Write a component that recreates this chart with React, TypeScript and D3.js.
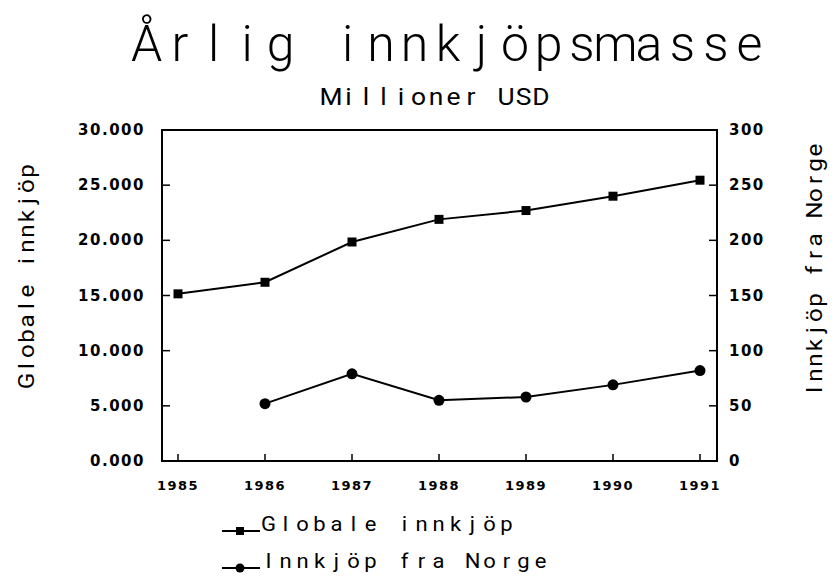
import React from "react";
import * as d3 from "d3";

const years = [1985, 1986, 1987, 1988, 1989, 1990, 1991];
const globalValues = [15150, 16200, 19850, 21900, 22700, 24000, 25450];
const norwayYears = [1986, 1987, 1988, 1989, 1990, 1991];
const norwayValues = [52, 79, 55, 58, 69, 82];
const leftTicks = [0, 5000, 10000, 15000, 20000, 25000, 30000];
const leftTickLabels = ["0.000", "5.000", "10.000", "15.000", "20.000", "25.000", "30.000"];
const rightTicks = [0, 50, 100, 150, 200, 250, 300];
const rightTickLabels = ["0", "50", "100", "150", "200", "250", "300"];
const titleText = "Årlig innkjöpsmasse";
const subtitleText = "Millioner USD";
const leftAxisTitle = "Globale innkjöp";
const rightAxisTitle = "Innkjöp fra Norge";
const legendLabels = ["Globale innkjöp", "Innkjöp fra Norge"];

const W = 832;
const H = 578;
const L = 162, R = 717, T = 130, B = 461;

const TXT = "Roboto, 'Noto Sans', sans-serif";
const NUM = "'DejaVu Sans', sans-serif";

function Mono({ text, cx, y, cell, size, weight = 400, startX, sx = 1 }: any) {
  const n = text.length;
  const x0 = startX !== undefined ? startX : cx - (n * cell) / 2;
  return (
    <g>
      {Array.from(text).map((ch: any, i: number) => (
        <text
          key={i}
          transform={`translate(${x0 + (i + 0.5) * cell},${y}) scale(${sx},1)`}
          x={0}
          y={0}
          textAnchor="middle"
          fontFamily={TXT}
          fontSize={size}
          fontWeight={weight}
          fill="#000"
        >
          {ch}
        </text>
      ))}
    </g>
  );
}

export default function App() {
  const x = d3.scaleLinear().domain([1985, 1991]).range([178, 700]);
  const yL = d3.scaleLinear().domain([0, 30000]).range([B, T]);
  const yR = d3.scaleLinear().domain([0, 300]).range([B, T]);

  const gData = years.map((yr, i) => ({ x: x(yr), y: yL(globalValues[i]) }));
  const nData = norwayYears.map((yr, i) => ({ x: x(yr), y: yR(norwayValues[i]) }));
  const line = d3.line<any>().x((d) => d.x).y((d) => d.y);

  return (
    <svg width={W} height={H} style={{ position: "absolute", left: 0, top: 0, background: "#fff" }}>
      <rect x={0} y={0} width={W} height={H} fill="#fff" />
      <Mono text={titleText} cx={448} y={61} cell={33.5} size={50} weight={300} />
      <Mono text={subtitleText} cx={436} y={105} cell={17.5} size={24} sx={1.1} />

      <g transform={`translate(34,276) rotate(-90)`}>
        <Mono text={leftAxisTitle} cx={0} y={0} cell={15} size={22} sx={1.1} />
      </g>
      <g transform={`translate(822,270) rotate(-90)`}>
        <Mono text={rightAxisTitle} cx={0} y={0} cell={15} size={22} sx={1.1} />
      </g>

      <rect x={L} y={T} width={R - L} height={B - T} fill="none" stroke="#000" strokeWidth={2} />

      {leftTicks.map((t, i) => (
        <g key={"l" + i}>
          {i > 0 && i < leftTicks.length - 1 && (
            <line x1={L} x2={L + 8} y1={yL(t)} y2={yL(t)} stroke="#000" strokeWidth={1.5} />
          )}
          <text x={145} y={yL(t) + 5} textAnchor="end" fontFamily={NUM} fontWeight="bold" fontSize={15} letterSpacing={1.5}>
            {leftTickLabels[i]}
          </text>
        </g>
      ))}
      {rightTicks.map((t, i) => (
        <g key={"r" + i}>
          {i > 0 && i < rightTicks.length - 1 && (
            <line x1={R - 8} x2={R} y1={yR(t)} y2={yR(t)} stroke="#000" strokeWidth={1.5} />
          )}
          <text x={729} y={yR(t) + 5} textAnchor="start" fontFamily={NUM} fontWeight="bold" fontSize={15} letterSpacing={1.5}>
            {rightTickLabels[i]}
          </text>
        </g>
      ))}
      {years.map((yr) => (
        <g key={"x" + yr}>
          <line x1={x(yr)} x2={x(yr)} y1={B} y2={B - 7} stroke="#000" strokeWidth={1.5} />
          <text x={x(yr)} y={490} textAnchor="middle" fontFamily={NUM} fontWeight="bold" fontSize={13} letterSpacing={1.5}>
            {yr}
          </text>
        </g>
      ))}

      <path d={line(gData) || ""} fill="none" stroke="#000" strokeWidth={2} />
      {gData.map((d, i) => (
        <rect key={"g" + i} x={d.x - 4.5} y={d.y - 4.5} width={9} height={9} fill="#000" />
      ))}
      <path d={line(nData) || ""} fill="none" stroke="#000" strokeWidth={2} />
      {nData.map((d, i) => (
        <circle key={"n" + i} cx={d.x} cy={d.y} r={5.5} fill="#000" />
      ))}

      <line x1={222} x2={260} y1={531} y2={531} stroke="#000" strokeWidth={2} />
      <rect x={236} y={527} width={8} height={8} fill="#000" />
      <Mono text={legendLabels[0]} startX={260} y={531} cell={17} size={20} sx={1.1} />
      <line x1={222} x2={260} y1={568} y2={568} stroke="#000" strokeWidth={2} />
      <circle cx={240} cy={568} r={4.5} fill="#000" />
      <Mono text={legendLabels[1]} startX={260} y={568} cell={17} size={20} sx={1.1} />
    </svg>
  );
}
